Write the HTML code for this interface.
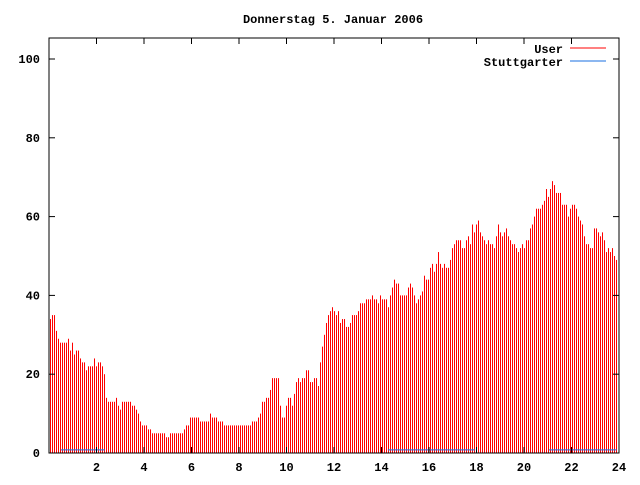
<!DOCTYPE html>
<html><head><meta charset="utf-8"><style>
body{margin:0;background:#fff}
svg text{font-family:"Liberation Mono",monospace;font-size:12px;font-weight:bold;fill:#000}
</style></head><body>
<svg width="640" height="480" xmlns="http://www.w3.org/2000/svg">
<rect width="640" height="480" fill="#fff"/>
<text x="333" y="23" text-anchor="middle">Donnerstag 5. Januar 2006</text>
<g id="bars"></g>
<g id="stg"></g>
<g id="axes"></g>
<g>
<text x="563" y="53" text-anchor="end">User</text>
<line x1="570" y1="48" x2="606" y2="48" stroke="#ff0000"/>
<text x="563" y="66" text-anchor="end">Stuttgarter</text>
<line x1="570" y1="61" x2="606" y2="61" stroke="#1a6fe0"/>
</g>
<rect x="49" y="38" width="570" height="415" fill="none" stroke="#000"/>
</svg>
<script>
const userValues=[34,35,35,31,29,28,28,28,28,29,26,28,25,26,26,24,23,23,21,22,22,22,24,22,23,23,22,20,
14,13,13,13,13,14,12,11,13,13,13,13,13,12,12,11,10,8,7,7,7,6,6,5,5,5,5,5,5,5,4,4,5,5,5,5,5,5,5,6,7,7,9,9,9,9,9,8,8,8,8,8,10,9,9,9,8,8,8,7,7,7,7,7,7,7,
7,
7,7,7,7,7,7,8,8,8,9,10,13,13,14,14,16,19,19,19,19,
12,9,9,12,14,14,12,15,18,19,18,19,19,21,21,18,18,19,19,17,
23,27,30,33,35,36,37,36,35,36,33,34,34,32,32,33,35,35,35,36,
38,38,38,39,39,39,40,39,39,38,40,39,39,39,37,40,42,44,43,43,
40,40,40,40,42,43,42,40,38,
39,40,41,45,44,44,47,48,46,48,51,48,47,48,47,47,49,52,53,54,54,54,52,52,54,55,53,58,56,58,59,56,55,54,53,54,53,53,52,55,58,56,55,56,57,55,54,53,53,52,51,52,53,52,54,54,57,58,60,62,62,62,63,64,67,65,67,69,68,66,66,66,63,63,63,60,62,63,63,62,60,59,58,55,53,53,52,52,57,57,56,55,56,54,51,52,51,52,50,49];
const stgStarts=[0.5,14.27,21.05];
const stgEnds=[2.35,17.94,23.9];
const stgValues=[0.8,0.8,0.8];
const xTicks=[2,4,6,8,10,12,14,16,18,20,22,24];
const yTicks=[0,20,40,60,80,100];
const STEP=2/23.75, OFF=1/23.75;
const X=t=>49+t*23.75, Y=v=>453-v*3.94;
const NS="http://www.w3.org/2000/svg";
function mk(tag,attrs,parent){const e=document.createElementNS(NS,tag);for(const k in attrs)e.setAttribute(k,attrs[k]);parent.appendChild(e);return e;}
const bars=document.getElementById('bars');
userValues.forEach((v,i)=>{
  const x=Math.round(X(OFF+i*STEP));
  const r=mk('rect',{x:x,y:Y(v),width:1,height:453-Y(v),fill:'#ff0000'},bars);
  
  
});
const stg=document.getElementById('stg');
stgStarts.forEach((s,i)=>{
  const l=mk('line',{x1:X(s),x2:X(stgEnds[i]),y1:Y(stgValues[i]),y2:Y(stgValues[i]),stroke:'#1a6fe0','stroke-width':1},stg);
  
  
});
const ax=document.getElementById('axes');
yTicks.forEach(v=>{
  const y=Y(v);
  mk('line',{x1:49,x2:55,y1:y,y2:y,stroke:'#000'},ax);
  mk('line',{x1:613,x2:619,y1:y,y2:y,stroke:'#000'},ax);
  const t=mk('text',{x:40,y:y+4,'text-anchor':'end'},ax);
  t.textContent=v;
  
  
});
xTicks.forEach(v=>{
  const x=X(v);
  mk('line',{x1:x,x2:x,y1:453,y2:447,stroke:'#000'},ax);
  mk('line',{x1:x,x2:x,y1:38,y2:44,stroke:'#000'},ax);
  const t=mk('text',{x:x,y:471,'text-anchor':'middle'},ax);
  t.textContent=v;
  
  
});
</script>
</body></html>
